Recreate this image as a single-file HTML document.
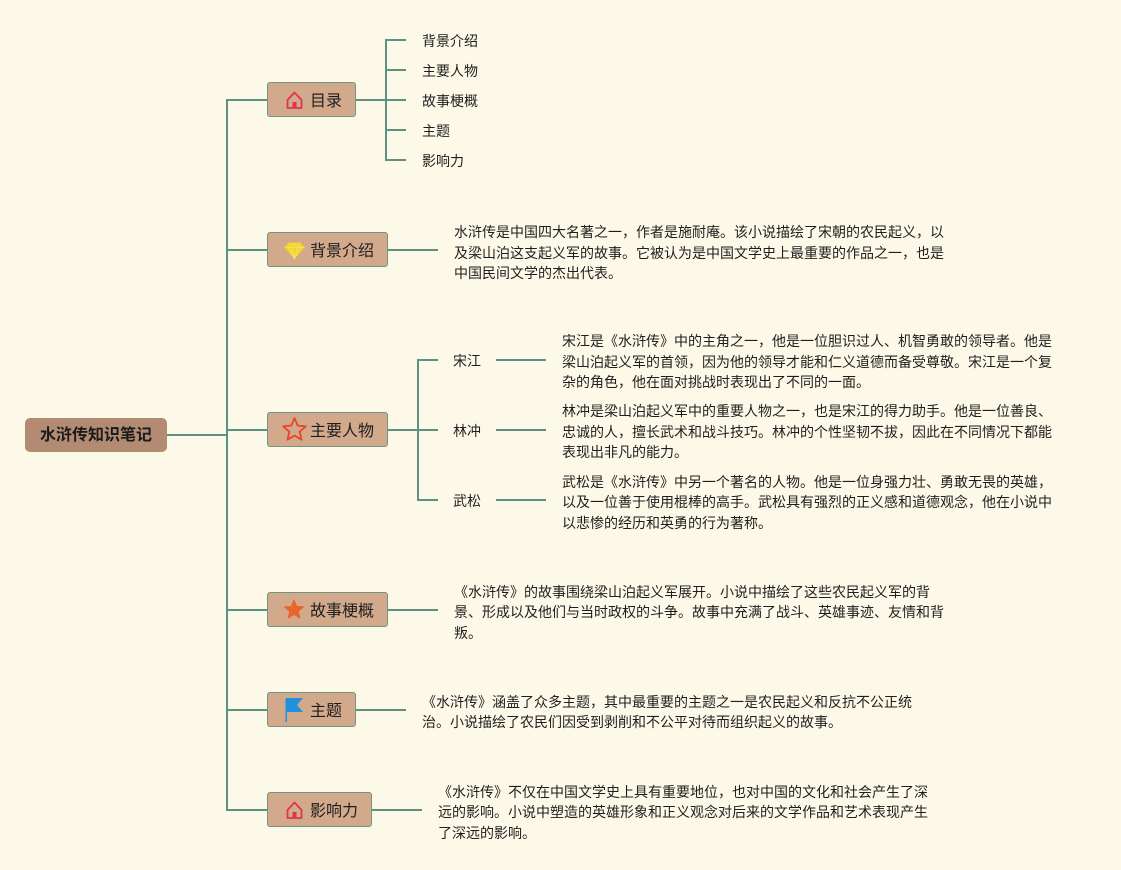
<!DOCTYPE html>
<html>
<head>
<meta charset="utf-8">
<style>
  html, body { margin:0; padding:0; }
  body { width:1121px; height:870px; background:#fdf9e8; position:relative; overflow:hidden;
         font-family:"Liberation Sans","Noto Sans CJK SC",sans-serif; color:#1e1e1e; }
  svg { position:absolute; left:0; top:0; }
  .box { position:absolute; height:35px; box-sizing:border-box; background:#d3a98c; border:1px solid #6f9585;
         border-radius:3px; font-size:16px; line-height:33px; white-space:nowrap; }
  .box span { position:absolute; left:42px; top:1.5px; }
  .root { position:absolute; left:25px; top:418px; width:142px; height:34px; background:#b38b73; border-radius:5px;
          font-size:16px; font-weight:bold; line-height:35px; text-align:center; color:#1a1a1a; }
  .t { position:absolute; font-size:14px; line-height:20px; white-space:nowrap; }
  .p { position:absolute; font-size:14px; line-height:20.5px; white-space:nowrap; }
</style>
</head>
<body>
<svg width="1121" height="870" viewBox="0 0 1121 870">
  <g stroke="#5d9282" stroke-width="2" fill="none">
    <line x1="167" y1="435" x2="227" y2="435"/>
    <line x1="227" y1="99" x2="227" y2="811"/>
    <line x1="227" y1="100" x2="267" y2="100"/>
    <line x1="227" y1="250" x2="267" y2="250"/>
    <line x1="227" y1="430" x2="267" y2="430"/>
    <line x1="227" y1="610" x2="267" y2="610"/>
    <line x1="227" y1="710" x2="267" y2="710"/>
    <line x1="227" y1="810" x2="267" y2="810"/>
    <!-- 目录 -->
    <line x1="356" y1="100" x2="386" y2="100"/>
    <line x1="386" y1="39" x2="386" y2="161"/>
    <line x1="386" y1="40" x2="406" y2="40"/>
    <line x1="386" y1="70" x2="406" y2="70"/>
    <line x1="386" y1="100" x2="406" y2="100"/>
    <line x1="386" y1="130" x2="406" y2="130"/>
    <line x1="386" y1="160" x2="406" y2="160"/>
    <!-- 背景 -->
    <line x1="388" y1="250" x2="438" y2="250"/>
    <!-- 主要人物 -->
    <line x1="388" y1="430" x2="418" y2="430"/>
    <line x1="418" y1="359" x2="418" y2="501"/>
    <line x1="418" y1="360" x2="438" y2="360"/>
    <line x1="418" y1="430" x2="438" y2="430"/>
    <line x1="418" y1="500" x2="438" y2="500"/>
    <line x1="496" y1="360" x2="546" y2="360"/>
    <line x1="496" y1="430" x2="546" y2="430"/>
    <line x1="496" y1="500" x2="546" y2="500"/>
    <!-- others -->
    <line x1="388" y1="610" x2="438" y2="610"/>
    <line x1="356" y1="710" x2="406" y2="710"/>
    <line x1="372" y1="810" x2="422" y2="810"/>
  </g>
</svg>

<div class="root">水浒传知识笔记</div>

<div class="box" style="left:267px;top:82px;width:89px;"><span>目录</span></div>
<div class="box" style="left:267px;top:232px;width:121px;"><span>背景介绍</span></div>
<div class="box" style="left:267px;top:412px;width:121px;"><span>主要人物</span></div>
<div class="box" style="left:267px;top:592px;width:121px;"><span>故事梗概</span></div>
<div class="box" style="left:267px;top:692px;width:89px;"><span>主题</span></div>
<div class="box" style="left:267px;top:792px;width:105px;"><span>影响力</span></div>

<svg width="1121" height="870" viewBox="0 0 1121 870">
  <!-- house 目录 -->
  <g stroke="#e0344f" stroke-width="1.8" fill="none" stroke-linejoin="round">
    <path d="M287.5,100 L294.5,92.5 L301.5,100 L301.5,108 L287.5,108 Z"/>
  </g>
  <rect x="292.5" y="102" width="4" height="6" fill="#e0344f"/>
  <!-- diamond -->
  <polygon points="288.5,242.5 300.5,242.5 304.5,247.5 294.5,259 284.5,247.5" fill="#f3d42a"/>
  <g stroke="#f8e36a" stroke-width="0.7" fill="none">
    <polyline points="284.5,247.5 304.5,247.5"/>
    <polyline points="290.5,242.5 289,247.5 294.5,259 300,247.5 298.5,242.5"/>
    <polyline points="294.5,242.5 292,247.5 294.5,259 297,247.5 294.5,242.5"/>
  </g>
  <!-- star outline -->
  <polygon points="294.5,418 297.7,425.6 305.9,426.3 299.7,431.7 301.5,439.7 294.5,435.5 287.5,439.7 289.3,431.7 283.1,426.3 291.3,425.6"
           fill="none" stroke="#e8452a" stroke-width="1.8" stroke-linejoin="round"/>
  <!-- filled star -->
  <polygon points="294,600 296.6,606.4 303.5,606.9 298.2,611.4 299.9,618.1 294,614.4 288.1,618.1 289.8,611.4 284.5,606.9 291.4,606.4"
           fill="#e8662a" stroke="#e8662a" stroke-width="1" stroke-linejoin="round"/>
  <!-- flag -->
  <polygon points="285.5,698 303,698 297,705 303,712 287,712 287,722 285.5,722" fill="#2190e0"/>
  <!-- house 影响力 -->
  <g stroke="#e0344f" stroke-width="1.8" fill="none" stroke-linejoin="round">
    <path d="M287.5,810 L294.5,802.5 L301.5,810 L301.5,818 L287.5,818 Z"/>
  </g>
  <rect x="292.5" y="812" width="4" height="6" fill="#e0344f"/>
</svg>

<!-- 目录 children -->
<div class="t" style="left:422px;top:31px;">背景介绍</div>
<div class="t" style="left:422px;top:61px;">主要人物</div>
<div class="t" style="left:422px;top:91px;">故事梗概</div>
<div class="t" style="left:422px;top:121px;">主题</div>
<div class="t" style="left:422px;top:151px;">影响力</div>

<!-- 背景介绍 -->
<div class="p" style="left:454px;top:222px;">水浒传是中国四大名著之一，作者是施耐庵。该小说描绘了宋朝的农民起义，以<br>及梁山泊这支起义军的故事。它被认为是中国文学史上最重要的作品之一，也是<br>中国民间文学的杰出代表。</div>

<!-- 人物 -->
<div class="t" style="left:453px;top:351px;">宋江</div>
<div class="t" style="left:453px;top:421px;">林冲</div>
<div class="t" style="left:453px;top:491px;">武松</div>

<div class="p" style="left:562px;top:331px;">宋江是《水浒传》中的主角之一，他是一位胆识过人、机智勇敢的领导者。他是<br>梁山泊起义军的首领，因为他的领导才能和仁义道德而备受尊敬。宋江是一个复<br>杂的角色，他在面对挑战时表现出了不同的一面。</div>
<div class="p" style="left:562px;top:401px;">林冲是梁山泊起义军中的重要人物之一，也是宋江的得力助手。他是一位善良、<br>忠诚的人，擅长武术和战斗技巧。林冲的个性坚韧不拔，因此在不同情况下都能<br>表现出非凡的能力。</div>
<div class="p" style="left:562px;top:471.5px;">武松是《水浒传》中另一个著名的人物。他是一位身强力壮、勇敢无畏的英雄，<br>以及一位善于使用棍棒的高手。武松具有强烈的正义感和道德观念，他在小说中<br>以悲惨的经历和英勇的行为著称。</div>

<!-- 故事梗概 -->
<div class="p" style="left:454px;top:581.5px;">《水浒传》的故事围绕梁山泊起义军展开。小说中描绘了这些农民起义军的背<br>景、形成以及他们与当时政权的斗争。故事中充满了战斗、英雄事迹、友情和背<br>叛。</div>

<!-- 主题 -->
<div class="p" style="left:422px;top:691.5px;">《水浒传》涵盖了众多主题，其中最重要的主题之一是农民起义和反抗不公正统<br>治。小说描绘了农民们因受到剥削和不公平对待而组织起义的故事。</div>

<!-- 影响力 -->
<div class="p" style="left:438px;top:781.5px;">《水浒传》不仅在中国文学史上具有重要地位，也对中国的文化和社会产生了深<br>远的影响。小说中塑造的英雄形象和正义观念对后来的文学作品和艺术表现产生<br>了深远的影响。</div>

</body>
</html>
